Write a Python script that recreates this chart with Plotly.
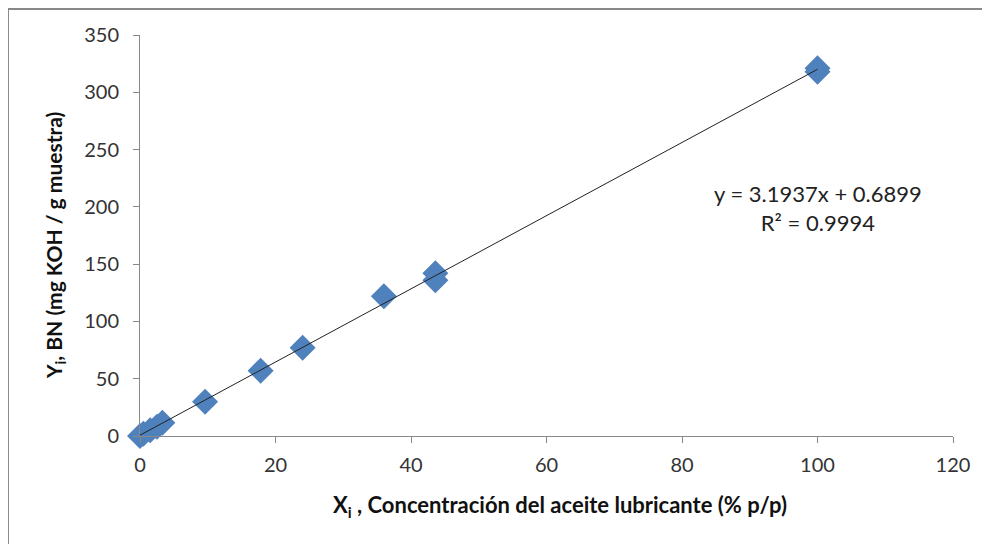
import plotly.graph_objects as go

x_conc = [0, 0.5, 1.5, 2.5, 3.3, 9.6, 17.8, 24.0, 36.0, 43.6, 43.6, 100, 100]
y_bn = [0, 2, 5, 8, 11.5, 30, 57, 77, 122, 142, 136, 321, 318]
slope = 3.1937
intercept = 0.6899
r2 = 0.9994
x_ticks = [0, 20, 40, 60, 80, 100, 120]
y_ticks = [0, 50, 100, 150, 200, 250, 300, 350]

fit_x = [min(x_conc), max(x_conc)]
fit_y = [slope * v + intercept for v in fit_x]

font_family = "Lato, 'Open Sans', sans-serif"
fig = go.Figure()
fig.add_trace(go.Scatter(x=x_conc, y=y_bn, mode="markers", cliponaxis=False,
                         marker=dict(symbol="diamond", size=20, color="#4F81BD",
                                     line=dict(width=0)),
                         showlegend=False))
fig.add_trace(go.Scatter(x=fit_x, y=fit_y, mode="lines", cliponaxis=False,
                         line=dict(color="#222222", width=1), showlegend=False))

axis_common = dict(showgrid=False, zeroline=False, showline=True, linecolor="#888888",
                   linewidth=1, ticks="outside", tickcolor="#888888", ticklen=6,
                   tickfont=dict(family=font_family, size=20, color="#333333"))
fig.update_xaxes(range=[0, 120], tickvals=x_ticks, ticklabelstandoff=5, **axis_common)
fig.update_yaxes(range=[0, 350], tickvals=y_ticks, ticklabelstandoff=10, **axis_common)

fig.add_annotation(xref="paper", yref="paper", x=0.517, y=-0.1746, xanchor="center",
                   yanchor="middle", showarrow=False,
                   text="<b>X<sub>i</sub> , Concentración del aceite lubricante (% p/p)</b>",
                   font=dict(family=font_family, size=22, color="#111111"))
fig.add_annotation(xref="paper", yref="paper", x=-0.1046, y=0.476, xanchor="center",
                   yanchor="middle", showarrow=False, textangle=-90,
                   text="<b>Y<sub>i</sub>, BN (mg KOH / g muestra)</b>",
                   font=dict(family=font_family, size=21, color="#111111"))
fig.add_annotation(xref="x", yref="y", x=100.07, y=199, xanchor="center",
                   yanchor="middle", showarrow=False, align="center",
                   text=f"y = {slope}x + {intercept}<br>R² = {r2}",
                   font=dict(family=font_family, size=22, color="#222222"))

fig.add_shape(type="rect", xref="paper", yref="paper", x0=-0.1624, y0=-0.35,
              x1=1.1, y1=1.0648, line=dict(color="#888888", width=2),
              fillcolor="rgba(0,0,0,0)", layer="below")

fig.update_layout(width=990, height=544, margin=dict(l=132, r=45, t=27, b=116),
                  paper_bgcolor="white", plot_bgcolor="white")
fig.write_html("out.html")
